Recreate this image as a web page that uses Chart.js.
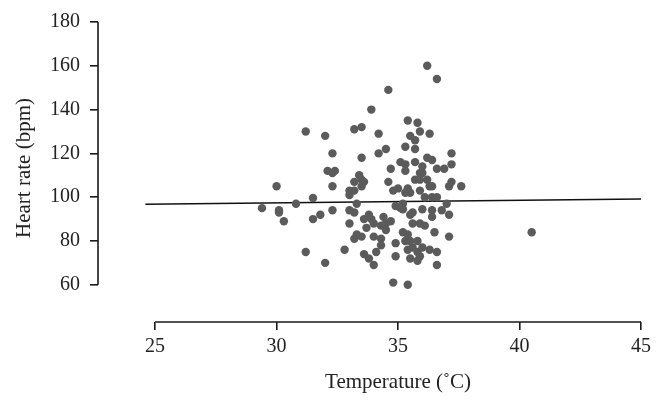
<!DOCTYPE html>
<html>
<head>
<meta charset="utf-8">
<script src="https://cdn.jsdelivr.net/npm/chart.js@4"></script>
<style>
  body { margin: 0; background: #fff; }
  #wrap { width: 664px; height: 407px; }
</style>
</head>
<body>
<div id="wrap"><canvas id="myChart" width="664" height="407"></canvas></div>
<script>
// valores (temperatura en C, frecuencia cardiaca en bpm)
var tempC = [36.2,36.6,34.6,33.9,31.2,32.0,33.2,33.5,34.2,35.4,
  35.8,35.9,36.3,35.5,35.7,35.7,35.3,34.5,34.2,32.3,
  33.5,37.2,37.2,36.2,36.4,35.1,35.3,35.7,36.0,36.6,
  36.9,34.7,35.3,35.9,36.0,32.1,32.3,32.4,33.4,33.5,
  33.2,33.6,33.5,32.3,30.0,34.6,35.7,35.9,36.2,36.3,
  36.4,37.2,37.1,37.6,34.8,35.0,35.4,35.3,35.5,35.9,
  33.0,33.2,33.0,31.5,36.1,36.4,36.6,29.4,30.1,30.1,
  30.3,30.8,31.5,31.8,32.3,33.0,33.2,33.3,33.0,33.8,
  33.6,33.9,33.7,34.0,34.4,34.5,34.7,34.5,34.3,33.3,
  33.2,33.5,34.0,34.3,34.3,34.1,33.6,33.8,34.0,32.8,
  31.2,32.0,34.9,34.9,34.8,35.4,34.9,35.1,35.2,35.5,
  35.6,35.9,36.1,36.4,36.4,36.8,37.1,37.0,36.5,37.1,
  35.2,35.4,35.3,35.5,35.8,35.6,35.4,35.8,35.9,36.0,
  36.3,36.6,35.5,35.8,36.6,40.5,36.0,35.2,35.6];
var heartRate = [160,154,149,140,130,128,131,132,129,135,
  134,130,129,128,126,122,123,122,120,120,
  118,120,115,118,117,116,115,116,114,113,
  113,113,112,111,111,112,111,112,110,108,
  107,107,105,105,105,107,108,108,108,105,
  105,107,105,105,103,104,104,102,102,103,
  103,103,101,99.6,100,100,100,95,93,94,
  89,97,90,92,94,94,93,97,88,92,
  90,90,86,88,91,88,89,85,87,83,
  81,82,82,81,78,75,74,72,69,76,
  75,70,79,73,61,60,96,95,97,92,
  88,88,87,94,91,94,92,97,84,82,
  84,83,80,80,80,77,76,75,73,77,
  76,75,72,71,69,84,94.5,94.5,93];
// recta de ajuste
var fitX = [24.6, 45];
var fitY = [96.8, 99.2];
var xTicks = [25, 30, 35, 40, 45];
var yTicks = [60, 80, 100, 120, 140, 160, 180];
var xTitle = "Temperature (˚C)";
var yTitle = "Heart rate (bpm)";

var points = [];
for (var i = 0; i < tempC.length; i++) {
  points.push({x: tempC[i], y: heartRate[i]});
}
var fitLine = fitX.map(function(v, i) { return {x: v, y: fitY[i]}; });

var axisColor = "#1a1a1a";
var serif = "'Liberation Serif', 'DejaVu Serif', serif";

// ejes separados: la linea solo cubre el rango de ticks
var axisLines = {
  id: "axisLines",
  afterDraw: function(chart) {
    var ctx = chart.ctx;
    var xs = chart.scales.x, ys = chart.scales.y;
    var x0 = xs.getPixelForValue(xTicks[0]);
    var x1 = xs.getPixelForValue(xTicks[xTicks.length - 1]);
    ctx.save();
    ctx.strokeStyle = axisColor;
    ctx.lineWidth = 1.6;
    ctx.beginPath();
    ctx.moveTo(ys.right, ys.getPixelForValue(yTicks[0]));
    ctx.lineTo(ys.right, ys.getPixelForValue(yTicks[yTicks.length - 1]));
    ctx.moveTo(x0, xs.top);
    ctx.lineTo(x1, xs.top);
    ctx.stroke();
    // titulo del eje x centrado sobre el rango 25-45
    ctx.fillStyle = "#222";
    ctx.font = "21px " + serif;
    ctx.textAlign = "center";
    ctx.textBaseline = "middle";
    ctx.fillText(xTitle, (x0 + x1) / 2, 382);
    ctx.restore();
  }
};

function noPad(scale) {
  scale.paddingTop = 0;
  scale.paddingBottom = 0;
  scale.paddingLeft = 0;
  scale.paddingRight = 0;
}

new Chart("myChart", {
  type: "scatter",
  data: {
    datasets: [{
      data: points,
      backgroundColor: "#5b5b5b",
      borderColor: "#5b5b5b",
      pointRadius: 4.2,
      pointBorderWidth: 0
    }, {
      type: "line",
      data: fitLine,
      borderColor: "#111",
      borderWidth: 1.6,
      pointRadius: 0,
      fill: false
    }]
  },
  options: {
    responsive: false,
    animation: false,
    layout: {padding: {left: 0, top: 14, right: 14, bottom: 0}},
    plugins: {legend: {display: false}, tooltip: {enabled: false}},
    scales: {
      x: {
        type: "linear",
        min: 22.65,
        max: 45.37,
        afterBuildTicks: function(scale) {
          scale.ticks = xTicks.map(function(v) { return {value: v}; });
        },
        afterFit: function(scale) { scale.height = 85; noPad(scale); },
        border: {display: false},
        grid: {drawOnChartArea: false, drawTicks: true, tickLength: 8, color: axisColor, lineWidth: 1.6},
        ticks: {color: "#222", padding: 5, font: {family: serif, size: 20}, maxRotation: 0},
        title: {display: false}
      },
      y: {
        type: "linear",
        min: 43.0,
        max: 183.65,
        afterBuildTicks: function(scale) {
          scale.ticks = yTicks.map(function(v) { return {value: v}; });
        },
        afterFit: function(scale) { scale.width = 98; noPad(scale); },
        border: {display: false},
        grid: {drawOnChartArea: false, drawTicks: true, tickLength: 8, color: axisColor, lineWidth: 1.6},
        ticks: {color: "#222", padding: 10, font: {family: serif, size: 20}},
        title: {display: true, text: yTitle, color: "#222", font: {family: serif, size: 21}, padding: {top: 12, bottom: 2}}
      }
    }
  },
  plugins: [axisLines]
});
</script>
</body>
</html>
